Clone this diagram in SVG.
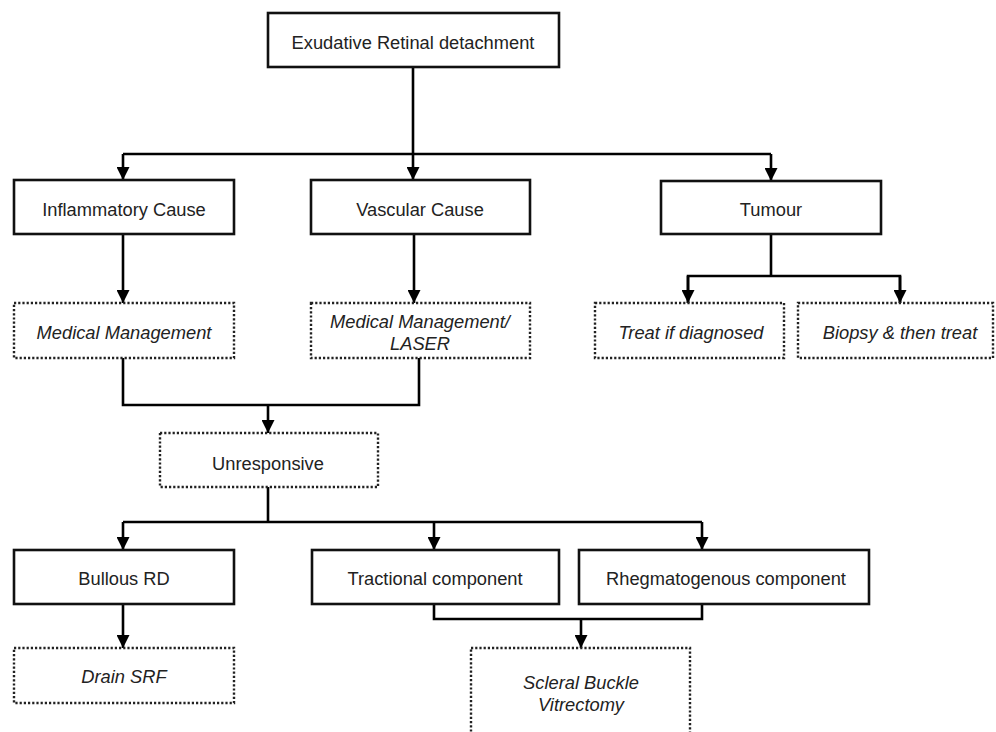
<svg xmlns="http://www.w3.org/2000/svg" width="996" height="732" viewBox="0 0 996 732">
<style>
.box{fill:#fff;stroke:#111;stroke-width:2.6}
.dot{fill:#fff;stroke:#222;stroke-width:2.4;stroke-dasharray:2.2 2}
.t{font-family:"Liberation Sans",Arial,sans-serif;font-size:18.3px;fill:#222;text-anchor:middle}
.i{font-style:italic}
.c{fill:none;stroke:#000;stroke-width:2.6;stroke-linejoin:miter}
</style>
<defs>
<marker id="ah" markerUnits="userSpaceOnUse" markerWidth="14" markerHeight="13" refX="13" refY="6.5" orient="auto" viewBox="0 0 14 13">
<path d="M0,0 L13,6.5 L0,13 z" fill="#000"/>
</marker>
</defs>
<g id="connectors">
<path class="c" d="M413,67 V180" marker-end="url(#ah)"/>
<path class="c" d="M123,154 H771"/>
<path class="c" d="M123,154 V180" marker-end="url(#ah)"/>
<path class="c" d="M771,154 V181" marker-end="url(#ah)"/>
<path class="c" d="M123,234 V303" marker-end="url(#ah)"/>
<path class="c" d="M414,234 V303" marker-end="url(#ah)"/>
<path class="c" d="M771,234 V276"/>
<path class="c" d="M688,303 V276 H900 V303"/>
<path class="c" d="M688,276 V303" marker-end="url(#ah)"/>
<path class="c" d="M900,276 V303" marker-end="url(#ah)"/>
<path class="c" d="M123,358 V405 H419 V358"/>
<path class="c" d="M268,405 V433" marker-end="url(#ah)"/>
<path class="c" d="M268,487 V522"/>
<path class="c" d="M123,522 H702"/>
<path class="c" d="M123,522 V550" marker-end="url(#ah)"/>
<path class="c" d="M434,522 V550" marker-end="url(#ah)"/>
<path class="c" d="M702,522 V550" marker-end="url(#ah)"/>
<path class="c" d="M123,604 V648" marker-end="url(#ah)"/>
<path class="c" d="M434,604 V619 H702 V604"/>
<path class="c" d="M581,619 V648" marker-end="url(#ah)"/>
</g>
<g id="n-erd"><rect class="box" x="268" y="13" width="291" height="54"/><text class="t" x="413" y="49">Exudative Retinal detachment</text></g>
<g id="n-infl"><rect class="box" x="14" y="180" width="220" height="54"/><text class="t" x="124" y="216">Inflammatory Cause</text></g>
<g id="n-vasc"><rect class="box" x="311" y="180" width="219" height="54"/><text class="t" x="420" y="216">Vascular Cause</text></g>
<g id="n-tum"><rect class="box" x="661" y="181" width="220" height="53"/><text class="t" x="771" y="216">Tumour</text></g>
<g id="n-mm"><rect class="dot" x="14" y="303" width="220" height="55"/><text class="t i" x="124" y="339">Medical Management</text></g>
<g id="n-mml"><rect class="dot" x="311" y="303" width="219" height="55"/><text class="t i" x="420" y="328">Medical Management/</text><text class="t i" x="420" y="350">LASER</text></g>
<g id="n-treat"><rect class="dot" x="595" y="303" width="189" height="55"/><text class="t i" x="691" y="339">Treat if diagnosed</text></g>
<g id="n-biopsy"><rect class="dot" x="798" y="303" width="195" height="55"/><text class="t i" x="900" y="339">Biopsy &amp; then treat</text></g>
<g id="n-unresp"><rect class="dot" x="160" y="433" width="218" height="54"/><text class="t" x="268" y="470">Unresponsive</text></g>
<g id="n-bullous"><rect class="box" x="14" y="550" width="220" height="54"/><text class="t" x="124" y="585">Bullous RD</text></g>
<g id="n-tract"><rect class="box" x="312" y="550" width="247" height="54"/><text class="t" x="435" y="585">Tractional component</text></g>
<g id="n-rheg"><rect class="box" x="579" y="550" width="290" height="54"/><text class="t" x="726" y="585">Rhegmatogenous component</text></g>
<g id="n-drain"><rect class="dot" x="14" y="648" width="220" height="55"/><text class="t i" x="124" y="683">Drain SRF</text></g>
<g id="n-scleral"><rect class="dot" x="471" y="648" width="219" height="100"/><text class="t i" x="581" y="689">Scleral Buckle</text><text class="t i" x="581" y="711">Vitrectomy</text></g>
</svg>
